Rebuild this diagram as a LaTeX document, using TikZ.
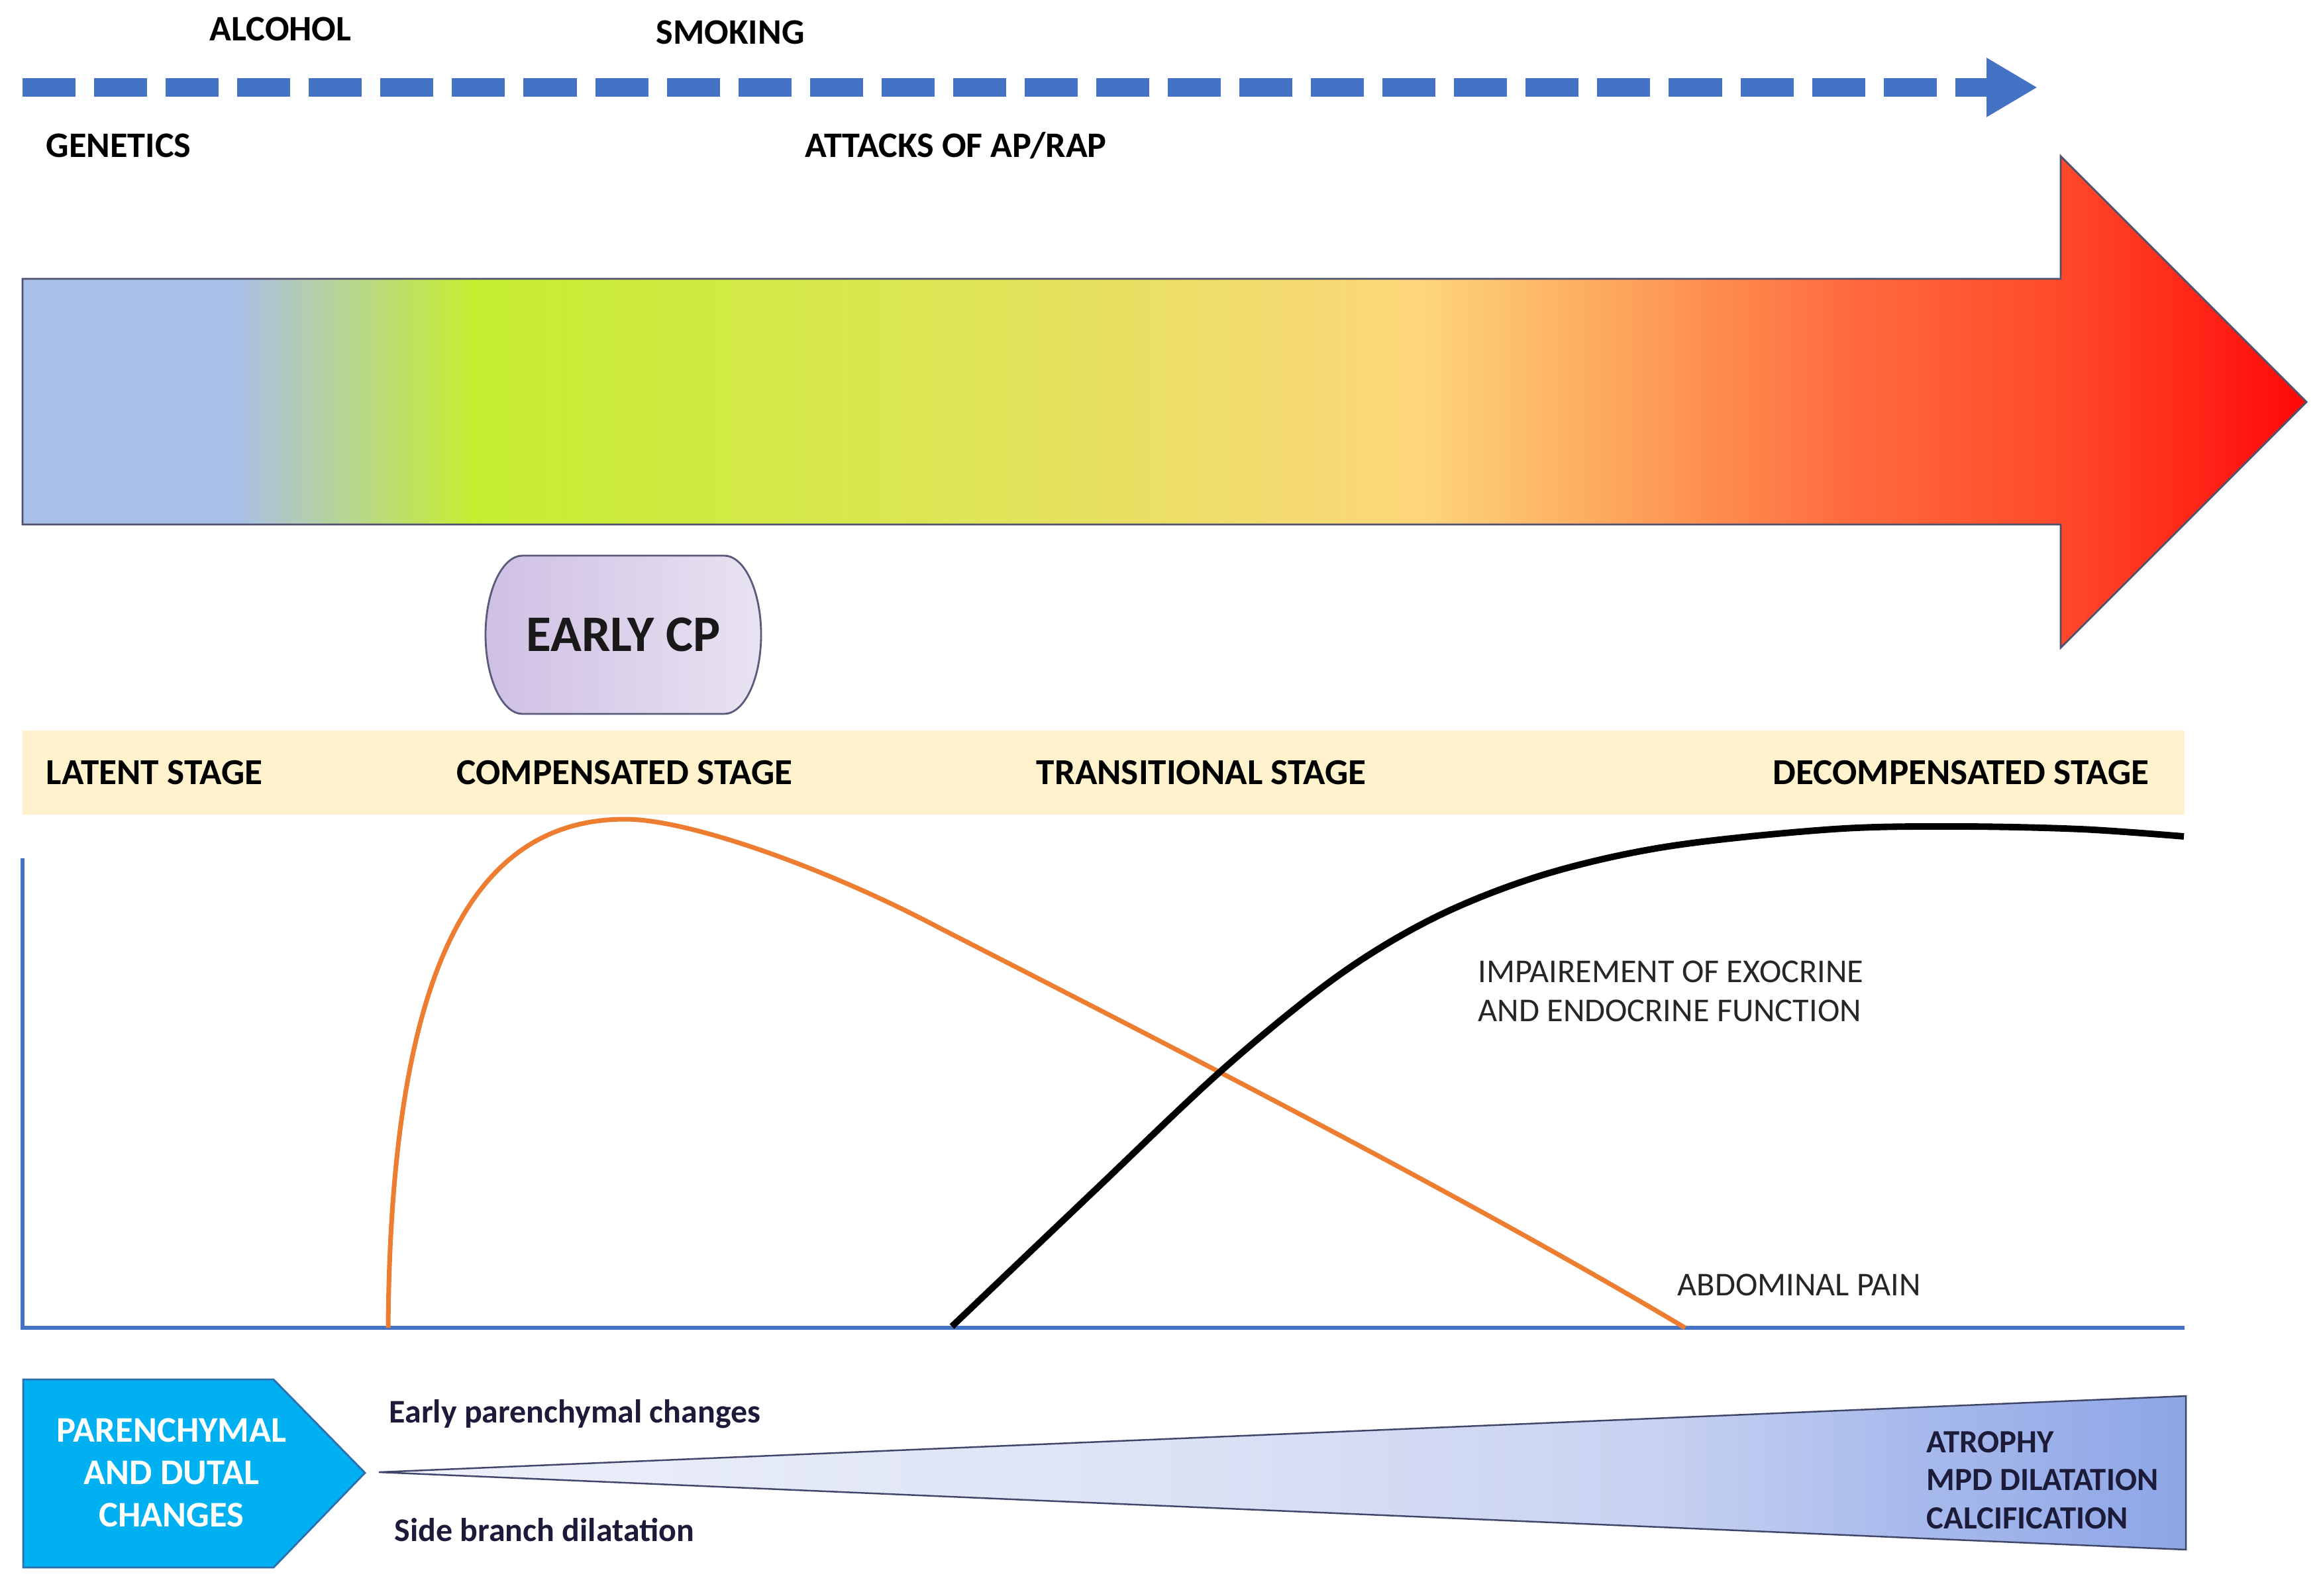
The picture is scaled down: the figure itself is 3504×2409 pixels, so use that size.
\documentclass[tikz,border=0pt]{standalone}
\usepackage{fontspec}
\setmainfont{Carlito}
\usepackage{tikz}
\usetikzlibrary{arrows.meta}

\definecolor{riskblue}{HTML}{4472C4}
\definecolor{shaftline}{HTML}{4F4F6E}
\definecolor{sblue}{HTML}{AABFE7}
\definecolor{sgreen}{HTML}{C6EE31}
\definecolor{syellow}{HTML}{DCE654}
\definecolor{speach}{HTML}{FDD67A}
\definecolor{sorange}{HTML}{FDA25A}
\definecolor{sredA}{HTML}{FF6A3E}
\definecolor{sredB}{HTML}{FF4A2A}
\definecolor{sredC}{HTML}{FF0808}
\definecolor{bandfill}{HTML}{FFF2CC}
\definecolor{painorange}{HTML}{ED7D31}
\definecolor{curvetext}{HTML}{262626}
\definecolor{parenfill}{HTML}{00B0F0}
\definecolor{parenline}{HTML}{2F6FB0}
\definecolor{wedgeA}{HTML}{EEF1FA}
\definecolor{wedgeB}{HTML}{DCE2F5}
\definecolor{wedgeC}{HTML}{C8D2F1}
\definecolor{wedgeD}{HTML}{A9BBEC}
\definecolor{wedgeE}{HTML}{8EA6E7}
\definecolor{wedgeline}{HTML}{40466A}
\definecolor{cpleft}{HTML}{CFC0E4}
\definecolor{cpmid}{HTML}{CBB9E3}
\definecolor{cpright}{HTML}{E8E3F1}
\definecolor{cpline}{HTML}{5A5A7A}
\definecolor{darktext}{HTML}{1C1C3A}

\pgfdeclarehorizontalshading{stageshade}{100bp}{color(0bp)=(sblue); color(29.7bp)=(sblue); color(34.9bp)=(sgreen); color(45bp)=(syellow); color(55.6bp)=(speach); color(60.2bp)=(sorange); color(65bp)=(sredA); color(69.6bp)=(sredB); color(75bp)=(sredC); color(100bp)=(sredC)}
\pgfdeclarehorizontalshading{wedgeshade}{100bp}{color(0bp)=(wedgeA); color(25bp)=(wedgeA); color(47.5bp)=(wedgeB); color(60.3bp)=(wedgeC); color(67.1bp)=(wedgeD); color(75bp)=(wedgeE); color(100bp)=(wedgeE)}

\tikzset{
	risklabel/.style={font=\bfseries\fontsize{15.4}{18}\selectfont, anchor=base west, inner sep=0pt},
	stagelabel/.style={font=\bfseries\fontsize{15.7}{18}\selectfont, anchor=base west, inner sep=0pt},
	riskarrow/.style={draw=riskblue, line width=7.7pt, dash pattern=on 0.8cm off 0.28cm, -{Triangle[length=7.7mm, width=8.4mm]}},
	curvelabel/.style={font=\fontsize{14.3}{16.8}\selectfont, text=curvetext, anchor=west, align=left, inner sep=0pt},
	changelabel/.style={font=\bfseries\fontsize{14.2}{17}\selectfont, text=darktext, anchor=base west, inner sep=0pt}
}

\begin{document}
\begin{tikzpicture}[x=0.01cm, y=-0.01cm]
	\useasboundingbox (0,0) rectangle (3504,2409);

	\node[risklabel] (alcohol) at (316,62) {ALCOHOL};
	\node[risklabel] (smoking) at (990,67) {SMOKING};
	\node[risklabel] (genetics) at (69,237) {GENETICS};
	\node[risklabel] (attacks) at (1215,237) {ATTACKS OF AP/RAP};
	\coordinate (riskstart) at (34,132);
	\coordinate (riskend) at (3076,132);
	\draw[riskarrow] (riskstart) -- (riskend);

	\shadedraw[shading=stageshade, draw=shaftline, line width=0.8pt] (34,421) -- (3111,421) -- (3111,236) -- (3482,607) -- (3111,978) -- (3111,792) -- (34,792) -- cycle;

	\shadedraw[left color=cpleft, middle color=cpmid, right color=cpright, draw=cpline, line width=0.8pt] (789,839) -- (1093,839) arc[start angle=-90, end angle=90, x radius=56, y radius=119.5] -- (789,1078) arc[start angle=90, end angle=270, x radius=56, y radius=119.5] -- cycle;
	\node[text=black!90, font=\bfseries\fontsize{22}{26}\selectfont, inner sep=0pt] (earlycp) at (941,958) {EARLY CP};

	\fill[bandfill] (34,1103) rectangle (3298,1230);
	\node[stagelabel] (latent) at (69,1184) {LATENT STAGE};
	\node[stagelabel] (compensated) at (689,1184) {COMPENSATED STAGE};
	\node[stagelabel] (transitional) at (1564,1184) {TRANSITIONAL STAGE};
	\node[stagelabel] (decompensated) at (2676,1184) {DECOMPENSATED STAGE};

	\draw[riskblue, line width=1.7pt] (34,1296) -- (34,2005) -- (3298,2005);
	\draw[painorange, line width=2pt] (586,2005) .. controls (590,1450) and (720,1237) .. (944,1237) .. controls (1040,1237) and (1248,1311) .. (1418,1401) .. controls (1750,1571) and (2200,1800) .. (2544,2005);
	\draw[black, line width=2.8pt] plot[smooth, tension=0.55] coordinates {(1437,2003) (1649,1801) (1848,1613) (2022,1472) (2171,1383) (2333,1320) (2519,1278) (2768,1252) (2955,1248) (3141,1252) (3297,1263)};
	\node[curvelabel] (impairment) at (2231,1497) {IMPAIREMENT OF EXOCRINE\\AND ENDOCRINE FUNCTION};
	\node[curvelabel] (abdpain) at (2532,1940) {ABDOMINAL PAIN};

	\filldraw[fill=parenfill, draw=parenline, line width=0.8pt] (35,2083) -- (413,2083) -- (551,2224) -- (413,2367) -- (35,2367) -- cycle;
	\node[font=\bfseries\fontsize{15.5}{18.2}\selectfont, text=white, align=center, inner sep=0pt] (parenchymal) at (259,2224) {PARENCHYMAL\\AND DUTAL\\CHANGES};
	\shadedraw[shading=wedgeshade, draw=wedgeline, line width=0.7pt] (572,2223) -- (3300,2108) -- (3300,2340) -- cycle;
	\node[changelabel] (earlychanges) at (587,2148) {Early parenchymal changes};
	\node[changelabel] (sidebranch) at (595,2327) {Side branch dilatation};
	\node[font=\bfseries\fontsize{13.9}{16.3}\selectfont, text=darktext, anchor=west, align=left, inner sep=0pt] (latechanges) at (2908,2235) {ATROPHY\\MPD DILATATION\\CALCIFICATION};
\end{tikzpicture}
\end{document}
